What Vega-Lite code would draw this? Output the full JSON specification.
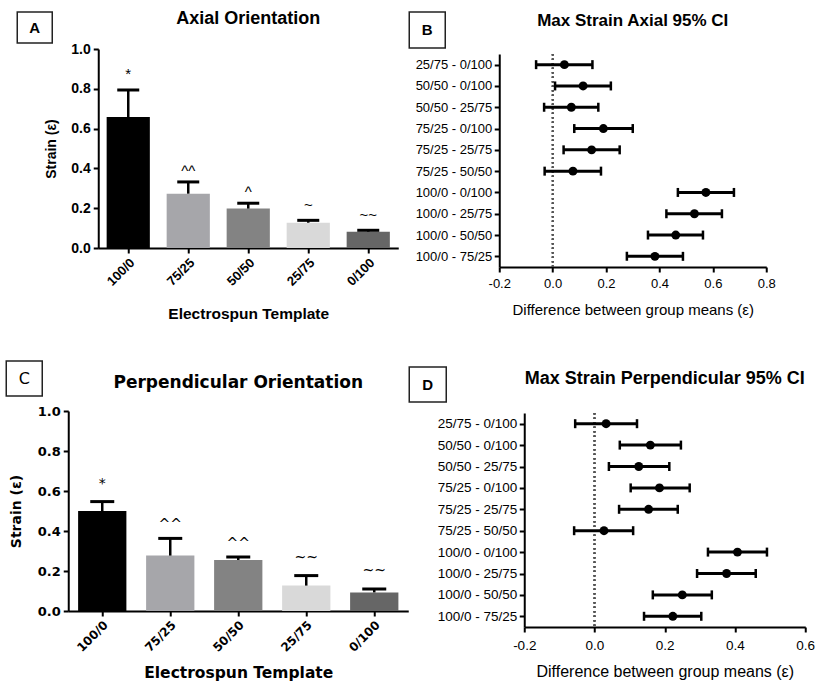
{
  "$schema": "https://vega.github.io/schema/vega-lite/v6.json",
  "background": "white",
  "autosize": {"type": "pad"},
  "padding": {"left": 5.25, "top": 10, "right": 0, "bottom": 0},
  "spacing": 0,
  "config": {
    "view": {"stroke": null},
    "axis": {"domainColor": "black", "domainWidth": 2, "tickColor": "black", "tickWidth": 2, "tickSize": 5, "grid": false, "labelColor": "black", "titleColor": "black", "labelOverlap": false, "labelFlush": false},
    "title": {"color": "black"}
  },
  "hconcat": [
    {
      "spacing": 38,
      "vconcat": [
        {
          "columns": 3, "bounds": "flush", "align": "each", "spacing": {"row": 6, "column": 0},
          "concat": [
            {"width": 11, "height": 1, "data": {"values": []}, "mark": "point"},
            {"width": 35, "height": 31, "data": {"values": [{"panel": "A"}]}, "mark": {"type": "text", "fontSize": 15, "fontWeight": "bold", "font": "Liberation Sans", "color": "black"}, "encoding": {"text": {"field": "panel"}}, "view": {"stroke": "#222", "strokeWidth": 1.5}},
            {"width": 1, "height": 1, "data": {"values": []}, "mark": "point"},
            {"width": 11, "height": 1, "data": {"values": []}, "mark": "point"},
            {"width": 81, "height": 1, "data": {"values": []}, "mark": "point"},
            {
              "width": 300, "height": 199,
              "title": {"text": "Axial Orientation", "font": "Liberation Sans", "fontSize": 18, "fontWeight": "bold", "frame": "group", "anchor": "middle", "offset": 14},
              "data": {"values": [
                {"template": "100/0", "strain": 0.658, "err": 0.794, "sig": "*"},
                {"template": "75/25", "strain": 0.273, "err": 0.332, "sig": "^^"},
                {"template": "50/50", "strain": 0.198, "err": 0.225, "sig": "^"},
                {"template": "25/75", "strain": 0.127, "err": 0.139, "sig": "~"},
                {"template": "0/100", "strain": 0.082, "err": 0.089, "sig": "~~"}
              ]},
              "encoding": {
                "x": {"field": "template", "type": "nominal", "sort": null, "title": "Electrospun Template",
                  "scale": {"paddingInner": 0.28, "paddingOuter": 0.14},
                  "axis": {"labelAngle": -45, "labelFont": "Liberation Sans", "labelFontSize": 13, "labelFontWeight": "bold", "labelPadding": 3, "titleFont": "Liberation Sans", "titleFontSize": 15.5, "titleFontWeight": "bold", "titlePadding": 18}}
              },
              "layer": [
                {"mark": {"type": "bar"},
                 "encoding": {
                   "y": {"field": "strain", "type": "quantitative", "title": "Strain (ε)", "scale": {"domain": [0, 1], "nice": false},
                     "axis": {"values": [0, 0.2, 0.4, 0.6, 0.8, 1.0], "tickCount": 10, "labelOverlap": false, "format": ".1f", "labelFont": "Liberation Sans", "labelFontSize": 14, "labelFontWeight": "bold", "labelPadding": 3, "titleFont": "Liberation Sans", "titleFontSize": 14, "titleFontWeight": "bold", "titlePadding": 12}},
                   "color": {"field": "template", "type": "nominal", "legend": null, "scale": {"domain": ["100/0", "75/25", "50/50", "25/75", "0/100"], "range": ["#000000", "#a6a6aa", "#838383", "#d9d9d9", "#666666"]}}
                 }},
                {"mark": {"type": "rule", "strokeWidth": 2.5, "color": "black"},
                 "encoding": {"y": {"field": "strain", "type": "quantitative", "title": "Strain (ε)"}, "y2": {"field": "err"}}},
                {"mark": {"type": "tick", "color": "black", "thickness": 3, "size": 22, "opacity": 1},
                 "encoding": {"y": {"field": "err", "type": "quantitative", "title": "Strain (ε)"}}},
                {"transform": [{"filter": "datum.sig == '*'"}],
                 "mark": {"type": "text", "baseline": "alphabetic", "dy": -11, "font": "Liberation Sans", "fontSize": 15, "color": "black"},
                 "encoding": {"y": {"field": "err", "type": "quantitative", "title": "Strain (ε)"}, "text": {"field": "sig"}}},
                {"transform": [{"filter": "indexof(datum.sig, '^') >= 0"}],
                 "mark": {"type": "text", "baseline": "alphabetic", "dy": -6, "font": "Liberation Sans", "fontSize": 15, "color": "black"},
                 "encoding": {"y": {"field": "err", "type": "quantitative", "title": "Strain (ε)"}, "text": {"field": "sig"}}},
                {"transform": [{"filter": "indexof(datum.sig, '~') >= 0"}],
                 "mark": {"type": "text", "baseline": "alphabetic", "dy": -10, "font": "Liberation Sans", "fontSize": 15, "color": "black"},
                 "encoding": {"y": {"field": "err", "type": "quantitative", "title": "Strain (ε)"}, "text": {"field": "sig"}}}
              ]
            }
          ]
        },
        {
          "columns": 2, "bounds": "flush", "align": "each", "spacing": {"row": 15, "column": 0},
          "concat": [
            {"width": 36, "height": 35, "data": {"values": [{"panel": "C"}]}, "mark": {"type": "text", "fontSize": 16, "font": "DejaVu Sans", "color": "black"}, "encoding": {"text": {"field": "panel"}}, "view": {"stroke": "#222", "strokeWidth": 1.5}},
            {"width": 1, "height": 1, "data": {"values": []}, "mark": "point"},
            {"width": 62, "height": 1, "data": {"values": []}, "mark": "point"},
            {
              "width": 340, "height": 200,
              "title": {"text": "Perpendicular Orientation", "font": "DejaVu Sans", "fontSize": 17, "fontWeight": "bold", "frame": "group", "anchor": "middle", "offset": 13},
              "data": {"values": [
                {"template": "100/0", "strain": 0.500, "err": 0.547, "sig": "*"},
                {"template": "75/25", "strain": 0.277, "err": 0.363, "sig": "^^"},
                {"template": "50/50", "strain": 0.255, "err": 0.270, "sig": "^^"},
                {"template": "25/75", "strain": 0.127, "err": 0.177, "sig": "~~"},
                {"template": "0/100", "strain": 0.093, "err": 0.110, "sig": "~~"}
              ]},
              "encoding": {
                "x": {"field": "template", "type": "nominal", "sort": null, "title": "Electrospun Template",
                  "scale": {"paddingInner": 0.29, "paddingOuter": 0.145},
                  "axis": {"labelAngle": -45, "labelFont": "DejaVu Sans", "labelFontSize": 12, "labelFontWeight": "bold", "labelPadding": 3, "titleFont": "DejaVu Sans", "titleFontSize": 15.5, "titleFontWeight": "bold", "titlePadding": 12}}
              },
              "layer": [
                {"mark": {"type": "bar"},
                 "encoding": {
                   "y": {"field": "strain", "type": "quantitative", "title": "Strain (ε)", "scale": {"domain": [0, 1], "nice": false},
                     "axis": {"values": [0, 0.2, 0.4, 0.6, 0.8, 1.0], "tickCount": 10, "labelOverlap": false, "format": ".1f", "labelFont": "DejaVu Sans", "labelFontSize": 13, "labelFontWeight": "bold", "labelPadding": 3, "titleFont": "DejaVu Sans", "titleFontSize": 14, "titleFontWeight": "bold", "titlePadding": 14}},
                   "color": {"field": "template", "type": "nominal", "legend": null, "scale": {"domain": ["100/0", "75/25", "50/50", "25/75", "0/100"], "range": ["#000000", "#a6a6aa", "#838383", "#d9d9d9", "#666666"]}}
                 }},
                {"mark": {"type": "rule", "strokeWidth": 2.5, "color": "black"},
                 "encoding": {"y": {"field": "strain", "type": "quantitative", "title": "Strain (ε)"}, "y2": {"field": "err"}}},
                {"mark": {"type": "tick", "color": "black", "thickness": 3, "size": 24, "opacity": 1},
                 "encoding": {"y": {"field": "err", "type": "quantitative", "title": "Strain (ε)"}}},
                {"transform": [{"filter": "datum.sig == '*'"}],
                 "mark": {"type": "text", "baseline": "alphabetic", "dy": -14, "font": "DejaVu Sans", "fontSize": 14, "color": "black"},
                 "encoding": {"y": {"field": "err", "type": "quantitative", "title": "Strain (ε)"}, "text": {"field": "sig"}}},
                {"transform": [{"filter": "indexof(datum.sig, '^') >= 0"}],
                 "mark": {"type": "text", "baseline": "alphabetic", "dy": -9, "font": "DejaVu Sans", "fontSize": 14, "color": "black"},
                 "encoding": {"y": {"field": "err", "type": "quantitative", "title": "Strain (ε)"}, "text": {"field": "sig"}}},
                {"transform": [{"filter": "indexof(datum.sig, '~') >= 0"}],
                 "mark": {"type": "text", "baseline": "alphabetic", "dy": -14, "font": "DejaVu Sans", "fontSize": 14, "color": "black"},
                 "encoding": {"y": {"field": "err", "type": "quantitative", "title": "Strain (ε)"}, "text": {"field": "sig"}}}
              ]
            }
          ]
        }
      ]
    },
    {
      "spacing": 49,
      "vconcat": [
        {
          "columns": 2, "bounds": "flush", "align": "each", "spacing": {"row": 6, "column": 0},
          "concat": [
            {"width": 36, "height": 36, "data": {"values": [{"panel": "B"}]}, "mark": {"type": "text", "fontSize": 15, "fontWeight": "bold", "font": "Liberation Sans", "color": "black"}, "encoding": {"text": {"field": "panel"}}, "view": {"stroke": "#222", "strokeWidth": 1.5}},
            {"width": 1, "height": 1, "data": {"values": []}, "mark": "point"},
            {"width": 90, "height": 1, "data": {"values": []}, "mark": "point"},
            {
              "width": 267, "height": 213,
              "title": {"text": "Max Strain Axial 95% CI", "font": "Liberation Sans", "fontSize": 17, "fontWeight": "bold", "frame": "group", "anchor": "middle", "offset": 23},
              "data": {"values": [
                {"comp": "25/75 - 0/100", "diff": 0.044, "lo": -0.062, "hi": 0.149},
                {"comp": "50/50 - 0/100", "diff": 0.114, "lo": 0.009, "hi": 0.218},
                {"comp": "50/50 - 25/75", "diff": 0.070, "lo": -0.032, "hi": 0.171},
                {"comp": "75/25 - 0/100", "diff": 0.190, "lo": 0.081, "hi": 0.300},
                {"comp": "75/25 - 25/75", "diff": 0.146, "lo": 0.041, "hi": 0.251},
                {"comp": "75/25 - 50/50", "diff": 0.076, "lo": -0.030, "hi": 0.181},
                {"comp": "100/0 - 0/100", "diff": 0.574, "lo": 0.469, "hi": 0.679},
                {"comp": "100/0 - 25/75", "diff": 0.531, "lo": 0.426, "hi": 0.634},
                {"comp": "100/0 - 50/50", "diff": 0.461, "lo": 0.357, "hi": 0.563},
                {"comp": "100/0 - 75/25", "diff": 0.383, "lo": 0.278, "hi": 0.488}
              ]},
              "layer": [
                {"mark": {"type": "rule", "color": "#555", "strokeWidth": 1.5, "strokeDash": [1.5, 3]},
                 "encoding": {"x": {"datum": 0, "type": "quantitative", "title": "Difference between group means (ε)", "scale": {"domain": [-0.2, 0.8], "nice": false},
                   "axis": {"values": [-0.2, 0, 0.2, 0.4, 0.6, 0.8], "tickCount": 10, "format": ".1f", "labelExpr": "replace(datum.label, '−', '-')", "labelFlush": false, "labelFont": "Liberation Sans", "labelFontSize": 13, "labelPadding": 5, "titleFont": "Liberation Sans", "titleFontSize": 15, "titleFontWeight": "normal", "titlePadding": 12}}}},
                {"mark": {"type": "rule", "color": "black", "strokeWidth": 3},
                 "encoding": {
                   "y": {"field": "comp", "type": "nominal", "sort": null, "title": null, "scale": {"type": "point", "padding": 0.5},
                     "axis": {"labelFont": "Liberation Sans", "labelFontSize": 13, "labelPadding": 2.5}},
                   "x": {"field": "lo", "type": "quantitative", "title": "Difference between group means (ε)"},
                   "x2": {"field": "hi"}}},
                {"mark": {"type": "tick", "color": "black", "thickness": 2.5, "size": 9, "opacity": 1},
                 "encoding": {"y": {"field": "comp", "type": "nominal", "sort": null, "title": null}, "x": {"field": "lo", "type": "quantitative", "title": "Difference between group means (ε)"}}},
                {"mark": {"type": "tick", "color": "black", "thickness": 2.5, "size": 9, "opacity": 1},
                 "encoding": {"y": {"field": "comp", "type": "nominal", "sort": null, "title": null}, "x": {"field": "hi", "type": "quantitative", "title": "Difference between group means (ε)"}}},
                {"mark": {"type": "point", "filled": true, "size": 80, "color": "black", "opacity": 1},
                 "encoding": {"y": {"field": "comp", "type": "nominal", "sort": null, "title": null}, "x": {"field": "diff", "type": "quantitative", "title": "Difference between group means (ε)"}}}
              ]
            }
          ]
        },
        {
          "columns": 2, "bounds": "flush", "align": "each", "spacing": {"row": 11, "column": 0},
          "concat": [
            {"width": 37, "height": 35, "data": {"values": [{"panel": "D"}]}, "mark": {"type": "text", "fontSize": 15, "fontWeight": "bold", "font": "Liberation Sans", "color": "black"}, "encoding": {"text": {"field": "panel"}}, "view": {"stroke": "#222", "strokeWidth": 1.5}},
            {"width": 1, "height": 1, "data": {"values": []}, "mark": "point"},
            {"width": 115, "height": 1, "data": {"values": []}, "mark": "point"},
            {
              "width": 281, "height": 214,
              "title": {"text": "Max Strain Perpendicular 95% CI", "font": "Liberation Sans", "fontSize": 18, "fontWeight": "bold", "frame": "group", "anchor": "middle", "offset": 24},
              "data": {"values": [
                {"comp": "25/75 - 0/100", "diff": 0.033, "lo": -0.055, "hi": 0.121},
                {"comp": "50/50 - 0/100", "diff": 0.159, "lo": 0.072, "hi": 0.246},
                {"comp": "50/50 - 25/75", "diff": 0.126, "lo": 0.041, "hi": 0.213},
                {"comp": "75/25 - 0/100", "diff": 0.185, "lo": 0.103, "hi": 0.271},
                {"comp": "75/25 - 25/75", "diff": 0.154, "lo": 0.070, "hi": 0.237},
                {"comp": "75/25 - 50/50", "diff": 0.027, "lo": -0.058, "hi": 0.110},
                {"comp": "100/0 - 0/100", "diff": 0.407, "lo": 0.323, "hi": 0.491},
                {"comp": "100/0 - 25/75", "diff": 0.376, "lo": 0.292, "hi": 0.459},
                {"comp": "100/0 - 50/50", "diff": 0.250, "lo": 0.166, "hi": 0.334},
                {"comp": "100/0 - 75/25", "diff": 0.223, "lo": 0.141, "hi": 0.304}
              ]},
              "layer": [
                {"mark": {"type": "rule", "color": "#555", "strokeWidth": 1.5, "strokeDash": [1.5, 3]},
                 "encoding": {"x": {"datum": 0, "type": "quantitative", "title": "Difference between group means (ε)", "scale": {"domain": [-0.2, 0.6], "nice": false},
                   "axis": {"values": [-0.2, 0, 0.2, 0.4, 0.6], "tickCount": 10, "format": ".1f", "labelExpr": "replace(datum.label, '−', '-')", "labelFlush": false, "labelFont": "Liberation Sans", "labelFontSize": 13.5, "labelPadding": 6, "titleFont": "Liberation Sans", "titleFontSize": 16, "titleFontWeight": "normal", "titlePadding": 12}}}},
                {"mark": {"type": "rule", "color": "black", "strokeWidth": 3},
                 "encoding": {
                   "y": {"field": "comp", "type": "nominal", "sort": null, "title": null, "scale": {"type": "point", "padding": 0.5},
                     "axis": {"labelFont": "Liberation Sans", "labelFontSize": 13.5, "labelPadding": 2.5}},
                   "x": {"field": "lo", "type": "quantitative", "title": "Difference between group means (ε)"},
                   "x2": {"field": "hi"}}},
                {"mark": {"type": "tick", "color": "black", "thickness": 2.5, "size": 9, "opacity": 1},
                 "encoding": {"y": {"field": "comp", "type": "nominal", "sort": null, "title": null}, "x": {"field": "lo", "type": "quantitative", "title": "Difference between group means (ε)"}}},
                {"mark": {"type": "tick", "color": "black", "thickness": 2.5, "size": 9, "opacity": 1},
                 "encoding": {"y": {"field": "comp", "type": "nominal", "sort": null, "title": null}, "x": {"field": "hi", "type": "quantitative", "title": "Difference between group means (ε)"}}},
                {"mark": {"type": "point", "filled": true, "size": 80, "color": "black", "opacity": 1},
                 "encoding": {"y": {"field": "comp", "type": "nominal", "sort": null, "title": null}, "x": {"field": "diff", "type": "quantitative", "title": "Difference between group means (ε)"}}}
              ]
            }
          ]
        }
      ]
    }
  ]
}
